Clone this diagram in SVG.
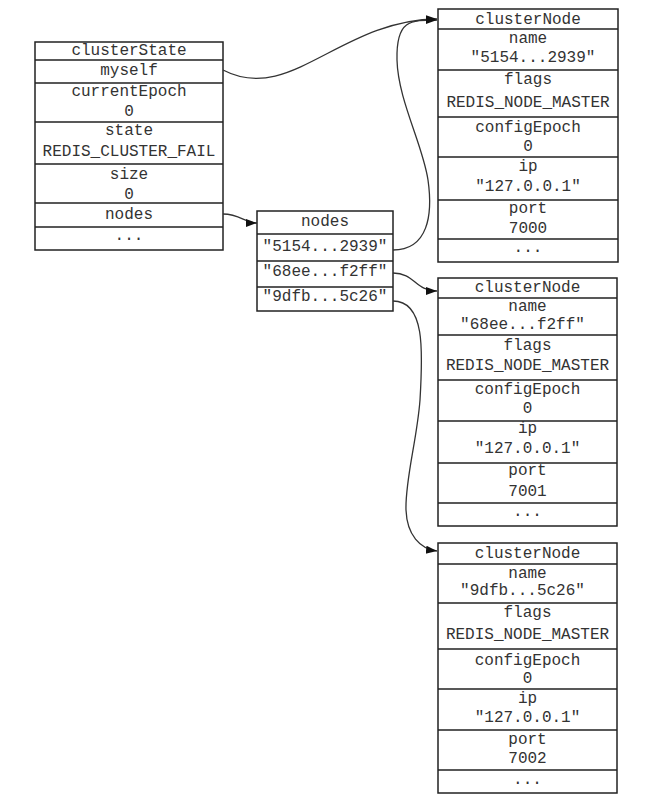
<svg xmlns="http://www.w3.org/2000/svg" width="652" height="801" viewBox="0 0 652 801">
<style>
.box{fill:#fff;stroke:#222;stroke-width:1.5}
.ln{stroke:#222;stroke-width:1.5;fill:none}
text{font-family:"Liberation Mono","DejaVu Sans Mono",monospace;font-size:16px;fill:#333;text-anchor:middle}
.c{fill:none;stroke:#333;stroke-width:1.3;marker-end:url(#ah)}
</style>
<defs>
<marker id="ah" markerUnits="userSpaceOnUse" markerWidth="12" markerHeight="10" refX="11" refY="4" orient="auto">
<path d="M0,0 L11,4 L0,8 Z" fill="#111"/>
</marker>
</defs>
<rect width="652" height="801" fill="#fff"/>

<g id="clusterState">
<rect class="box" x="35" y="42" width="188" height="208"/>
<path class="ln" d="M35,60H223M35,83H223M35,122H223M35,164H223M35,203H223M35,227H223"/>
<text x="129" y="55">clusterState</text>
<text x="129" y="75">myself</text>
<text x="129" y="96">currentEpoch</text>
<text x="129" y="116">0</text>
<text x="129" y="135">state</text>
<text x="129" y="156">REDIS_CLUSTER_FAIL</text>
<text x="129" y="179">size</text>
<text x="129" y="199">0</text>
<text x="129" y="219">nodes</text>
<text x="129" y="240">...</text>
</g>

<g id="nodes">
<rect class="box" x="257" y="211" width="136" height="100"/>
<path class="ln" d="M257,234H393M257,261H393M257,287H393"/>
<text x="325" y="226">nodes</text>
<text x="325" y="251">"5154...2939"</text>
<text x="325" y="276">"68ee...f2ff"</text>
<text x="325" y="301">"9dfb...5c26"</text>
</g>

<g id="clusterNode1">
<rect class="box" x="438" y="9" width="180" height="253"/>
<path class="ln" d="M438,29H618M438,70H618M438,117H618M438,157H618M438,200H618M438,239H618"/>
<text x="528" y="24">clusterNode</text>
<text x="528" y="43">name</text>
<text x="533" y="62">"5154...2939"</text>
<text x="528" y="84">flags</text>
<text x="528" y="107">REDIS_NODE_MASTER</text>
<text x="528" y="132">configEpoch</text>
<text x="528" y="151">0</text>
<text x="528" y="171">ip</text>
<text x="528" y="191">"127.0.0.1"</text>
<text x="528" y="213">port</text>
<text x="528" y="233">7000</text>
<text x="528" y="252">...</text>
</g>

<g id="clusterNode2">
<rect class="box" x="438" y="278" width="179" height="248"/>
<path class="ln" d="M438,298H617M438,335H617M438,380H617M438,421H617M438,463H617M438,503H617"/>
<text x="527.5" y="292">clusterNode</text>
<text x="527.5" y="311">name</text>
<text x="522.5" y="329">"68ee...f2ff"</text>
<text x="527.5" y="350">flags</text>
<text x="527.5" y="370">REDIS_NODE_MASTER</text>
<text x="527.5" y="394">configEpoch</text>
<text x="527.5" y="413">0</text>
<text x="527.5" y="433">ip</text>
<text x="527.5" y="453">"127.0.0.1"</text>
<text x="527.5" y="475">port</text>
<text x="527.5" y="496">7001</text>
<text x="527.5" y="516">...</text>
</g>

<g id="clusterNode3">
<rect class="box" x="438" y="543" width="179" height="250"/>
<path class="ln" d="M438,564H617M438,603H617M438,649H617M438,689H617M438,730H617M438,770H617"/>
<text x="527.5" y="558">clusterNode</text>
<text x="527.5" y="578">name</text>
<text x="522.5" y="595">"9dfb...5c26"</text>
<text x="527.5" y="617">flags</text>
<text x="527.5" y="639">REDIS_NODE_MASTER</text>
<text x="527.5" y="665">configEpoch</text>
<text x="527.5" y="683">0</text>
<text x="527.5" y="703">ip</text>
<text x="527.5" y="722">"127.0.0.1"</text>
<text x="527.5" y="744">port</text>
<text x="527.5" y="763">7002</text>
<text x="527.5" y="784">...</text>
</g>

<g id="connectors">
<path class="c" d="M223,70 C290,105 340,20 437,19"/>
<path class="c" d="M393,250 C428,250 433,215 428,180 S398,100 397,60 S410,20 437,20"/>
<path class="c" d="M223,214 C240,214 245,223 257,223"/>
<path class="c" d="M393,273 C415,273 415,291 437,291"/>
<path class="c" d="M393,301 C425,301 423,350 420,400 C417,440 405,480 406,510 C407,535 420,549 437,551"/>
</g>
</svg>
